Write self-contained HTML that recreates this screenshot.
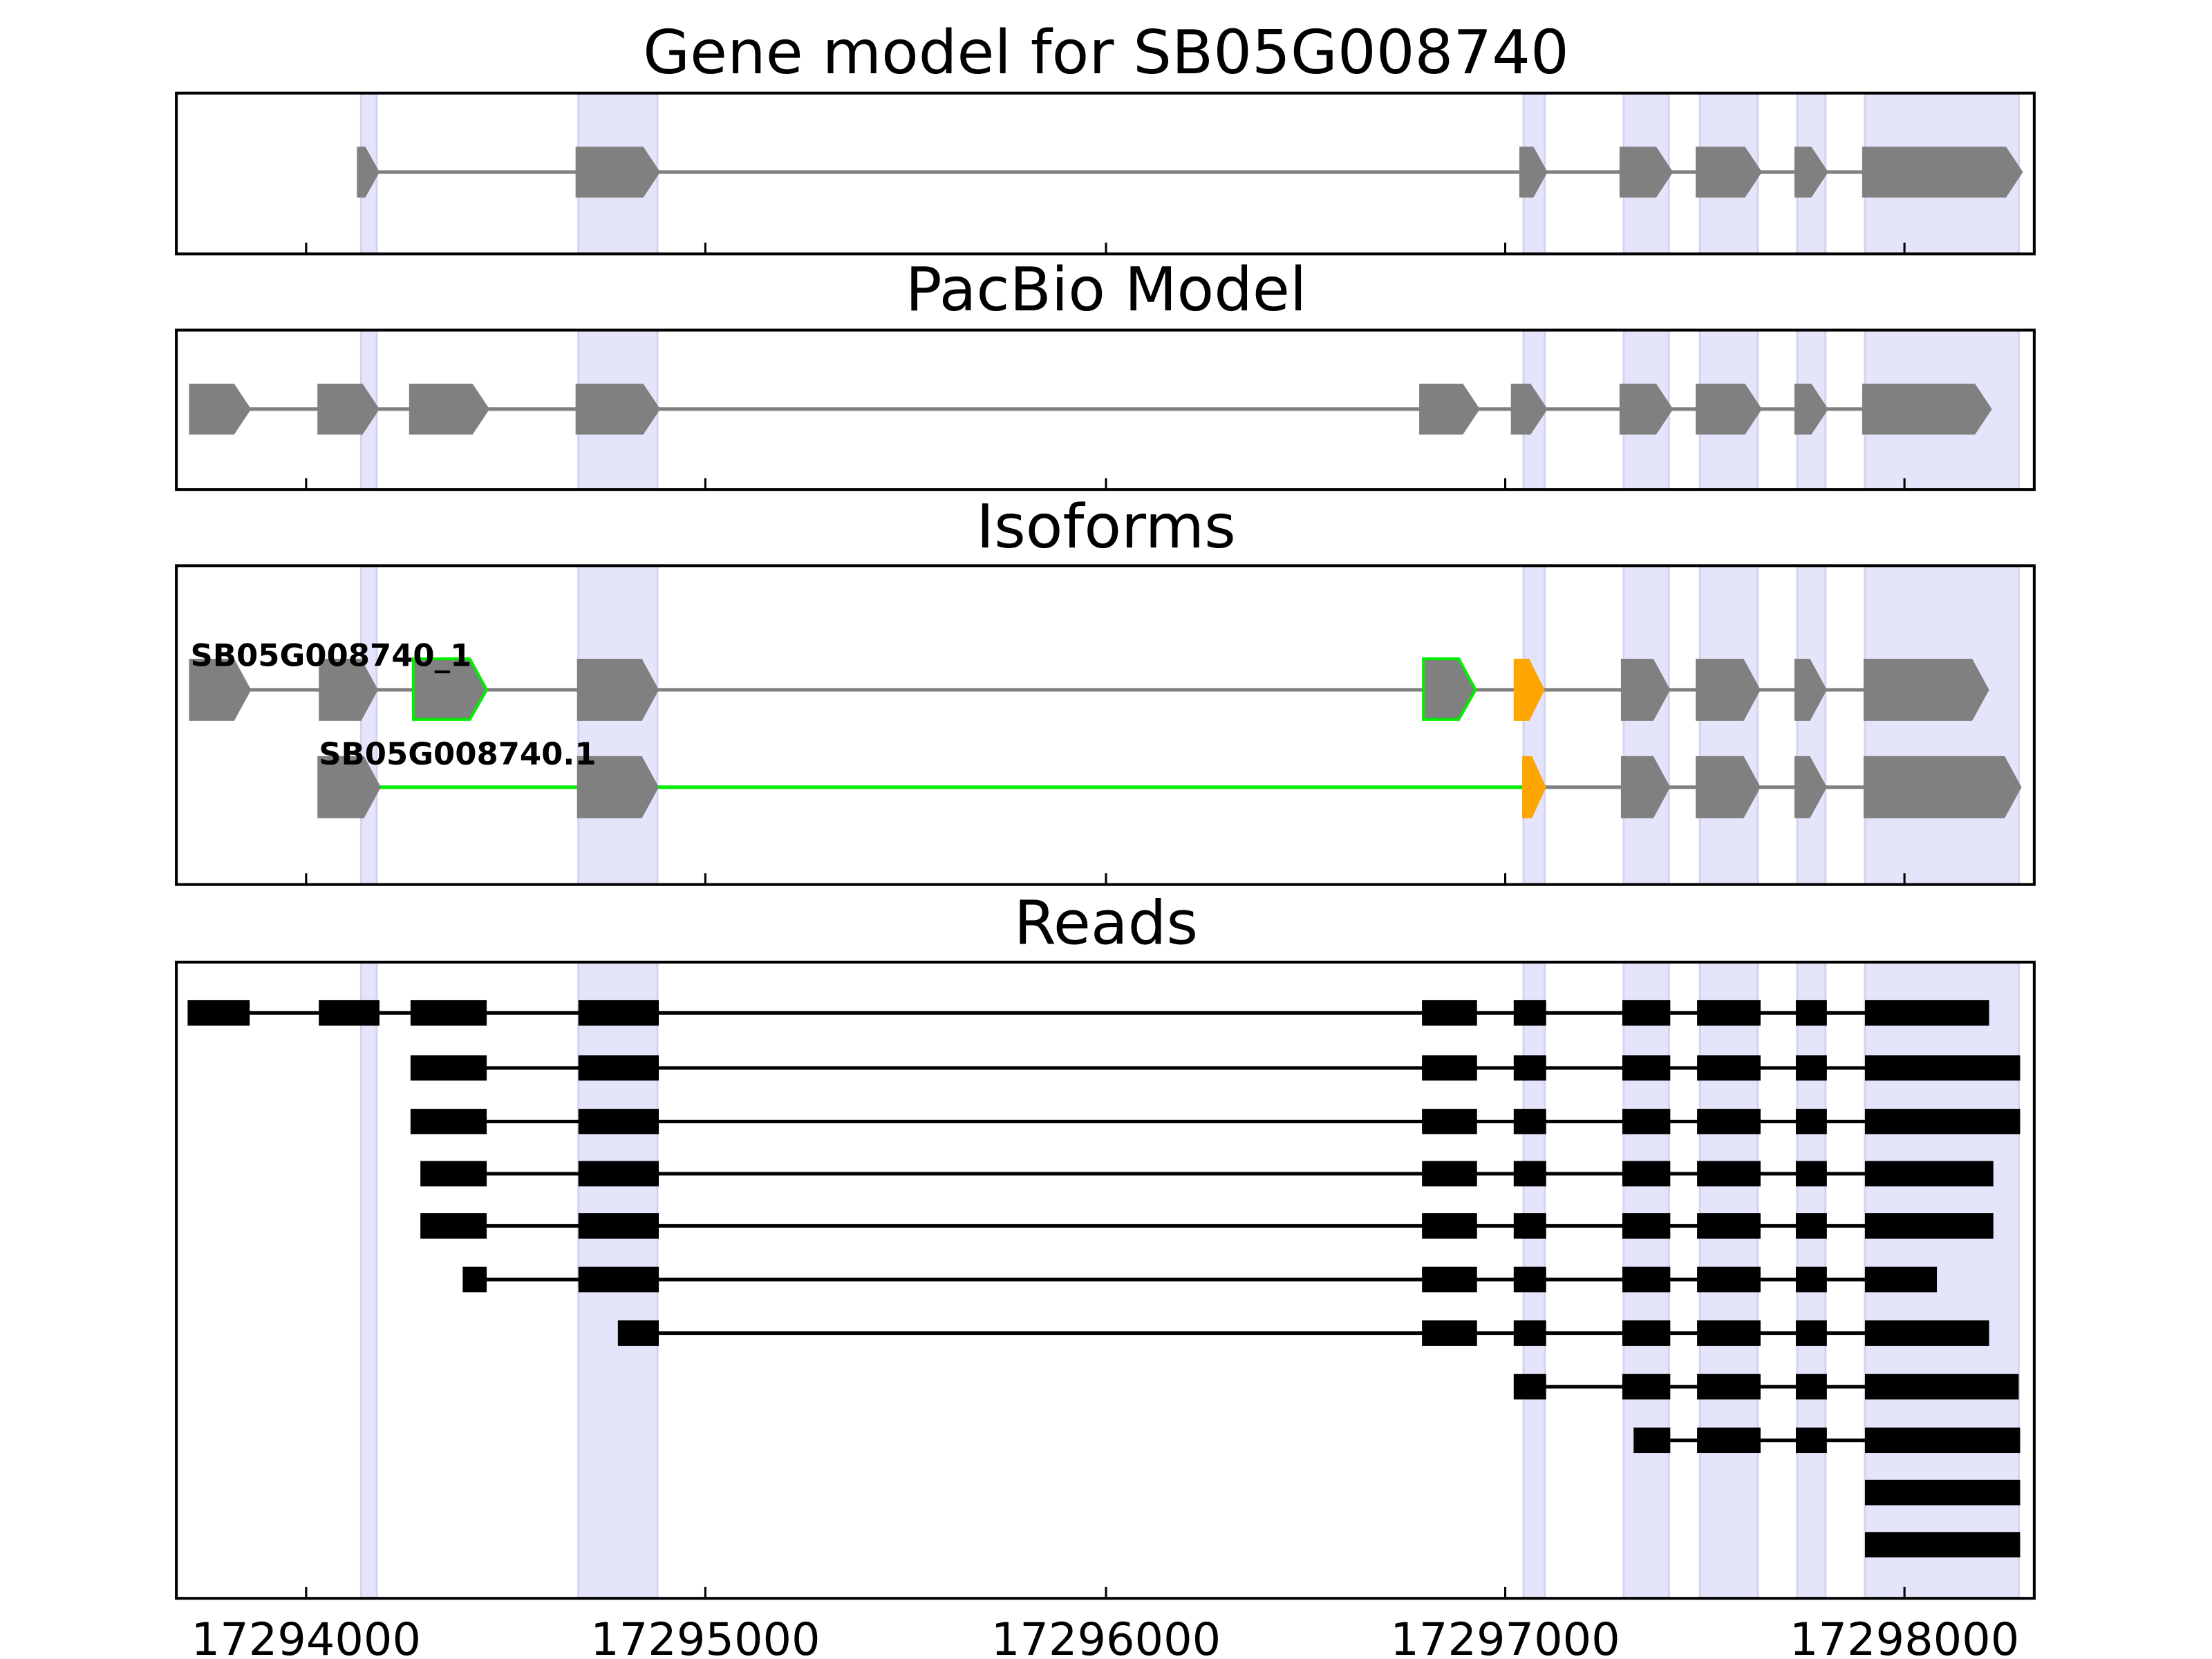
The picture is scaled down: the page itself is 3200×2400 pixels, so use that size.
<!DOCTYPE html>
<html><head><meta charset="utf-8"><style>html,body{margin:0;padding:0;background:#fff}svg{display:block}</style></head>
<body>
<svg width="3200" height="2400" viewBox="0 0 1568 1176" xmlns="http://www.w3.org/2000/svg" font-family="'DejaVu Sans','Liberation Sans',sans-serif">
<rect width="1568" height="1176" fill="#fff"/>
<g fill="#e4e4fb" stroke="#d4d4f0" stroke-width="1.5">
<rect x="256" width="11" y="66" height="114"/><rect x="410" width="56" y="66" height="114"/><rect x="1080" width="15" y="66" height="114"/><rect x="1151" width="32" y="66" height="114"/><rect x="1205" width="41" y="66" height="114"/><rect x="1274" width="20" y="66" height="114"/><rect x="1322" width="109" y="66" height="114"/>
<rect x="256" width="11" y="234" height="113"/><rect x="410" width="56" y="234" height="113"/><rect x="1080" width="15" y="234" height="113"/><rect x="1151" width="32" y="234" height="113"/><rect x="1205" width="41" y="234" height="113"/><rect x="1274" width="20" y="234" height="113"/><rect x="1322" width="109" y="234" height="113"/>
<rect x="256" width="11" y="401" height="226"/><rect x="410" width="56" y="401" height="226"/><rect x="1080" width="15" y="401" height="226"/><rect x="1151" width="32" y="401" height="226"/><rect x="1205" width="41" y="401" height="226"/><rect x="1274" width="20" y="401" height="226"/><rect x="1322" width="109" y="401" height="226"/>
<rect x="256" width="11" y="682" height="451"/><rect x="410" width="56" y="682" height="451"/><rect x="1080" width="15" y="682" height="451"/><rect x="1151" width="32" y="682" height="451"/><rect x="1205" width="41" y="682" height="451"/><rect x="1274" width="20" y="682" height="451"/><rect x="1322" width="109" y="682" height="451"/>
</g>
<!-- titles -->
<g font-size="43" text-anchor="middle" fill="#000">
<text x="784" y="52">Gene model for SB05G008740</text>
<text x="784" y="220">PacBio Model</text>
<text x="784" y="388">Isoforms</text>
<text x="784" y="669">Reads</text>
</g>
<!-- Gene model -->
<line x1="262" y1="122" x2="1420" y2="122" stroke="#808080" stroke-width="2.5"/>
<g fill="#808080">
<polygon points="253,104 259,104 269,122 259,140 253,140"/>
<polygon points="408,104 456,104 468,122 456,140 408,140"/>
<polygon points="1077,104 1087,104 1097,122 1087,140 1077,140"/>
<polygon points="1148,104 1174,104 1186,122 1174,140 1148,140"/>
<polygon points="1202,104 1237,104 1249,122 1237,140 1202,140"/>
<polygon points="1272,104 1284,104 1296,122 1284,140 1272,140"/>
<polygon points="1320,104 1422,104 1434,122 1422,140 1320,140"/>
</g>
<!-- PacBio -->
<line x1="140" y1="290" x2="1400" y2="290" stroke="#808080" stroke-width="2.5"/>
<g fill="#808080">
<polygon points="134,272 166,272 178,290 166,308 134,308"/>
<polygon points="225,272 257,272 269,290 257,308 225,308"/>
<polygon points="290,272 335,272 347,290 335,308 290,308"/>
<polygon points="408,272 456,272 468,290 456,308 408,308"/>
<polygon points="1006,272 1037,272 1049,290 1037,308 1006,308"/>
<polygon points="1071,272 1085,272 1097,290 1085,308 1071,308"/>
<polygon points="1148,272 1174,272 1186,290 1174,308 1148,308"/>
<polygon points="1202,272 1237,272 1249,290 1237,308 1202,308"/>
<polygon points="1272,272 1284,272 1296,290 1284,308 1272,308"/>
<polygon points="1320,272 1400,272 1412,290 1400,308 1320,308"/>
</g>
<!-- Isoforms row 1 -->
<line x1="140" y1="489" x2="1400" y2="489" stroke="#808080" stroke-width="2.5"/>
<g fill="#808080">
<polygon points="134,467 166,467 178,489 166,511 134,511"/>
<polygon points="226,467 256,467 268,489 256,511 226,511"/>
<polygon points="293,467 333,467 345,489 333,510 293,510" stroke="#00ee00" stroke-width="2"/>
<polygon points="409,467 455,467 467,489 455,511 409,511"/>
<polygon points="1009,467 1034,467 1046,489 1034,510 1009,510" stroke="#00ee00" stroke-width="2"/>
<polygon points="1073,467 1084,467 1095,489 1084,511 1073,511" fill="#ffa500"/>
<polygon points="1149,467 1172,467 1184,489 1172,511 1149,511"/>
<polygon points="1202,467 1236,467 1248,489 1236,511 1202,511"/>
<polygon points="1272,467 1283,467 1295,489 1283,511 1272,511"/>
<polygon points="1321,467 1398,467 1410,489 1398,511 1321,511"/>
</g>
<!-- Isoforms row 2 -->
<line x1="268" y1="558" x2="1080" y2="558" stroke="#00ee00" stroke-width="2.5"/>
<line x1="1094" y1="558" x2="1420" y2="558" stroke="#808080" stroke-width="2.5"/>
<g fill="#808080">
<polygon points="225,536 258,536 270,558 258,580 225,580"/>
<polygon points="409,536 455,536 467,558 455,580 409,580"/>
<polygon points="1079,536 1086,536 1096,558 1086,580 1079,580" fill="#ffa500"/>
<polygon points="1149,536 1172,536 1184,558 1172,580 1149,580"/>
<polygon points="1202,536 1236,536 1248,558 1236,580 1202,580"/>
<polygon points="1272,536 1283,536 1295,558 1283,580 1272,580"/>
<polygon points="1321,536 1421,536 1433,558 1421,580 1321,580"/>
</g>
<g font-size="22" font-weight="bold" fill="#000">
<text x="135" y="472">SB05G008740_1</text>
<text x="226" y="542">SB05G008740.1</text>
</g>
<!-- Reads -->
<g stroke="#000" stroke-width="2.5">
<line x1="150" y1="718" x2="1400" y2="718"/>
<line x1="300" y1="757" x2="1420" y2="757"/>
<line x1="300" y1="795" x2="1420" y2="795"/>
<line x1="300" y1="832" x2="1400" y2="832"/>
<line x1="300" y1="869" x2="1400" y2="869"/>
<line x1="330" y1="907" x2="1360" y2="907"/>
<line x1="445" y1="945" x2="1400" y2="945"/>
<line x1="1080" y1="983" x2="1420" y2="983"/>
<line x1="1165" y1="1021" x2="1420" y2="1021"/>
</g>
<g fill="#000">
<rect x="133" y="709" width="44" height="18"/><rect x="226" y="709" width="43" height="18"/><rect x="291" y="709" width="54" height="18"/><rect x="410" y="709" width="57" height="18"/><rect x="1008" y="709" width="39" height="18"/><rect x="1073" y="709" width="23" height="18"/><rect x="1150" y="709" width="34" height="18"/><rect x="1203" y="709" width="45" height="18"/><rect x="1273" y="709" width="22" height="18"/><rect x="1322" y="709" width="88" height="18"/>
<rect x="291" y="748" width="54" height="18"/><rect x="410" y="748" width="57" height="18"/><rect x="1008" y="748" width="39" height="18"/><rect x="1073" y="748" width="23" height="18"/><rect x="1150" y="748" width="34" height="18"/><rect x="1203" y="748" width="45" height="18"/><rect x="1273" y="748" width="22" height="18"/><rect x="1322" y="748" width="110" height="18"/>
<rect x="291" y="786" width="54" height="18"/><rect x="410" y="786" width="57" height="18"/><rect x="1008" y="786" width="39" height="18"/><rect x="1073" y="786" width="23" height="18"/><rect x="1150" y="786" width="34" height="18"/><rect x="1203" y="786" width="45" height="18"/><rect x="1273" y="786" width="22" height="18"/><rect x="1322" y="786" width="110" height="18"/>
<rect x="298" y="823" width="47" height="18"/><rect x="410" y="823" width="57" height="18"/><rect x="1008" y="823" width="39" height="18"/><rect x="1073" y="823" width="23" height="18"/><rect x="1150" y="823" width="34" height="18"/><rect x="1203" y="823" width="45" height="18"/><rect x="1273" y="823" width="22" height="18"/><rect x="1322" y="823" width="91" height="18"/>
<rect x="298" y="860" width="47" height="18"/><rect x="410" y="860" width="57" height="18"/><rect x="1008" y="860" width="39" height="18"/><rect x="1073" y="860" width="23" height="18"/><rect x="1150" y="860" width="34" height="18"/><rect x="1203" y="860" width="45" height="18"/><rect x="1273" y="860" width="22" height="18"/><rect x="1322" y="860" width="91" height="18"/>
<rect x="328" y="898" width="17" height="18"/><rect x="410" y="898" width="57" height="18"/><rect x="1008" y="898" width="39" height="18"/><rect x="1073" y="898" width="23" height="18"/><rect x="1150" y="898" width="34" height="18"/><rect x="1203" y="898" width="45" height="18"/><rect x="1273" y="898" width="22" height="18"/><rect x="1322" y="898" width="51" height="18"/>
<rect x="438" y="936" width="29" height="18"/><rect x="1008" y="936" width="39" height="18"/><rect x="1073" y="936" width="23" height="18"/><rect x="1150" y="936" width="34" height="18"/><rect x="1203" y="936" width="45" height="18"/><rect x="1273" y="936" width="22" height="18"/><rect x="1322" y="936" width="88" height="18"/>
<rect x="1073" y="974" width="23" height="18"/><rect x="1150" y="974" width="34" height="18"/><rect x="1203" y="974" width="45" height="18"/><rect x="1273" y="974" width="22" height="18"/><rect x="1322" y="974" width="109" height="18"/>
<rect x="1158" y="1012" width="26" height="18"/><rect x="1203" y="1012" width="45" height="18"/><rect x="1273" y="1012" width="22" height="18"/><rect x="1322" y="1012" width="110" height="18"/>
<rect x="1322" y="1049" width="110" height="18"/>
<rect x="1322" y="1086" width="110" height="18"/>
</g>
<g fill="none" stroke="#000" stroke-width="2">
<rect x="125" y="66" width="1317" height="114"/>
<rect x="125" y="234" width="1317" height="113"/>
<rect x="125" y="401" width="1317" height="226"/>
<rect x="125" y="682" width="1317" height="451"/>
</g>
<g stroke="#000" stroke-width="1.5">
<path d="M217,180v-8M500,180v-8M784,180v-8M1067,180v-8M1350,180v-8"/>
<path d="M217,347v-8M500,347v-8M784,347v-8M1067,347v-8M1350,347v-8"/>
<path d="M217,627v-8M500,627v-8M784,627v-8M1067,627v-8M1350,627v-8"/>
<path d="M217,1133v-8M500,1133v-8M784,1133v-8M1067,1133v-8M1350,1133v-8"/>
</g>
<g font-size="32" text-anchor="middle" fill="#000">
<text x="217" y="1173">17294000</text>
<text x="500" y="1173">17295000</text>
<text x="784" y="1173">17296000</text>
<text x="1067" y="1173">17297000</text>
<text x="1350" y="1173">17298000</text>
</g>
</svg>
</body></html>
